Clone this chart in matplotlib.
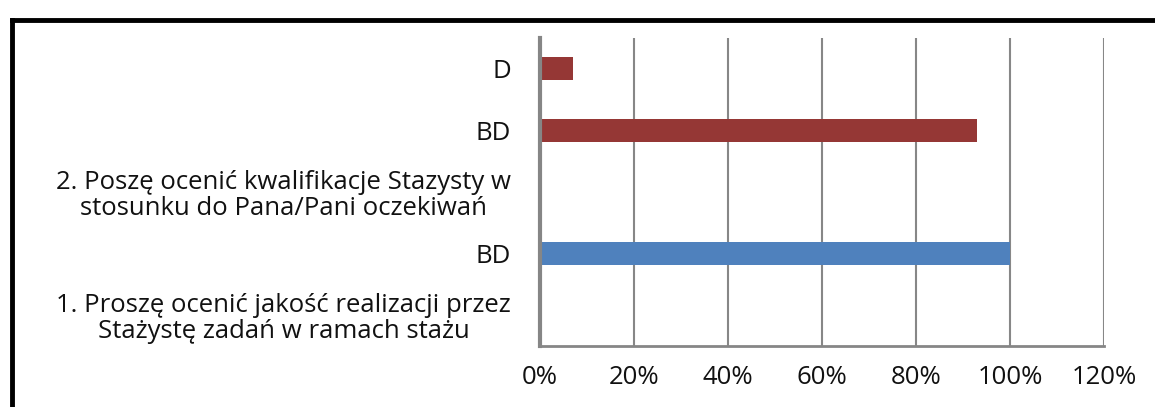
#!/usr/bin/env python3
"""Horizontal bar chart: survey answers (BD / D) per question."""

import numpy as np
import matplotlib
matplotlib.use("Agg")
import matplotlib.pyplot as plt
from matplotlib.lines import Line2D

# bottom -> top, as in the reference
categories = [
    "1. Proszę ocenić jakość realizacji przez\nStażystę zadań w ramach stażu",
    "BD",
    "2. Poszę ocenić kwalifikacje Stazysty w\nstosunku do Pana/Pani oczekiwań",
    "BD",
    "D",
]
values = [np.nan, 1.00, np.nan, 0.93, 0.07]
groups = ["q1", "q1", "q2", "q2", "q2"]
group_colors = {"q1": "#4F81BD", "q2": "#953735"}
xticks = [0.0, 0.2, 0.4, 0.6, 0.8, 1.0, 1.2]

plt.rcParams["font.family"] = ["Open Sans", "DejaVu Sans"]

fig = plt.figure(figsize=(11.55, 4.07), dpi=100)
ax = fig.add_axes([0.4675, 0.150, 0.4883, 0.757])

ypos = np.arange(len(categories))
ax.barh(ypos, np.nan_to_num(values), height=0.38,
        color=[group_colors[g] for g in groups], zorder=3)

ax.set_xlim(0, 1.2)
ax.set_ylim(-0.5, len(categories) - 0.5)
ax.set_xticks(xticks)
ax.set_xticklabels([f"{int(round(t * 100))}%" for t in xticks])
ax.set_yticks(ypos)
ax.set_yticklabels(categories)
for lab in ax.get_yticklabels():
    lab.set_multialignment("center")
    lab.set_linespacing(1.05)

ax.tick_params(axis="both", length=0, labelsize=18.5, colors="#111111")
ax.tick_params(axis="x", pad=14)
ax.tick_params(axis="y", pad=21)

ax.grid(axis="x", color="#878787", linewidth=1.5, zorder=0)
ax.spines["top"].set_visible(False)
ax.spines["right"].set_visible(False)
ax.spines["left"].set_color("#868686")
ax.spines["left"].set_linewidth(3)
ax.spines["left"].set_zorder(4)
ax.spines["bottom"].set_color("#868686")
ax.spines["bottom"].set_linewidth(2)

# thick black outer frame (top and left edges visible)
fig.add_artist(Line2D([0.0105, 1.0], [0.951, 0.951], color="black",
                      linewidth=3.5, transform=fig.transFigure))
fig.add_artist(Line2D([0.0105, 0.0105], [0.0, 0.951], color="black",
                      linewidth=3.5, transform=fig.transFigure))

fig.savefig("out.png", dpi=100)
